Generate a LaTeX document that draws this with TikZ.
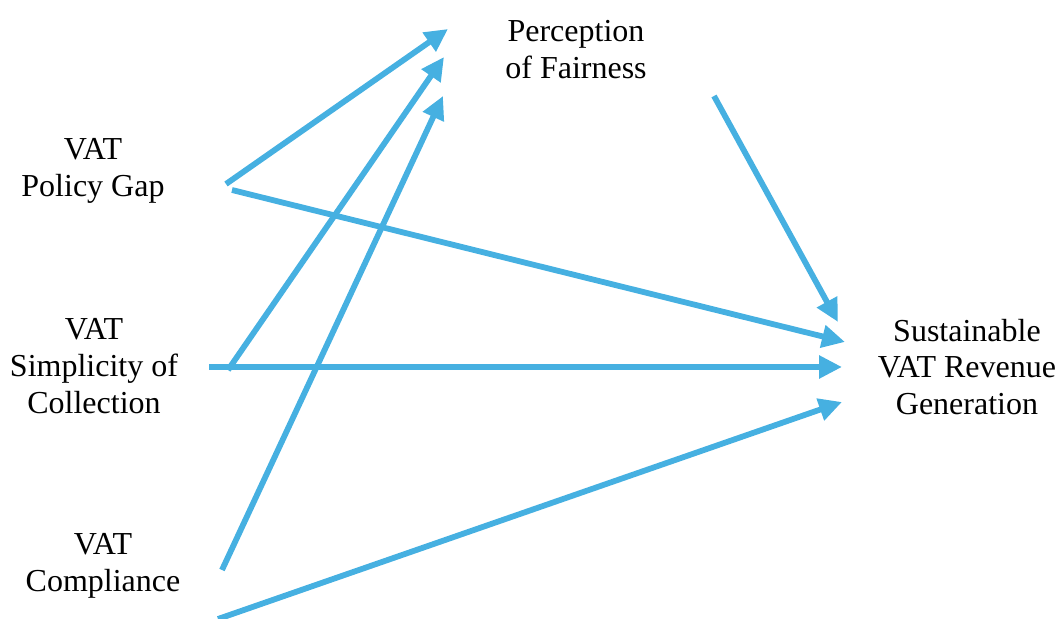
\documentclass[tikz,border=0pt]{standalone}
\usepackage{fontspec}
\setmainfont{Liberation Serif}
\usetikzlibrary{arrows.meta}
\definecolor{arrowblue}{RGB}{70,176,225}
\tikzset{
  lbl/.style={align=center, inner sep=0pt, font=\fontsize{16pt}{18.3pt}\selectfont},
  link/.style={draw=arrowblue, line width=2.9pt, -{Triangle[length=11.5pt,width=11pt]}}
}
\begin{document}
\begin{tikzpicture}[x=0.5pt,y=-0.5pt]
\useasboundingbox (0,0) rectangle (1062,619);
\node[lbl] (pf) at (576,49.5) {Perception\\of Fairness};
\node[lbl] (pg) at (93,171) {VAT\\Policy Gap};
\node[lbl] (sc) at (94,366) {VAT\\Simplicity of\\Collection};
\node[lbl] (cp) at (103,566) {VAT\\Compliance};
\node[lbl] (sv) at (967,367) {Sustainable\\VAT Revenue\\Generation};
% endpoints
\coordinate (pgA) at (226,184);
\coordinate (pgB) at (232,190);
\coordinate (scA) at (228,370);
\coordinate (scB) at (209,367);
\coordinate (cpA) at (222,570);
\coordinate (cpB) at (218,619);
\coordinate (pfA) at (448,29);
\coordinate (pfB) at (444,57);
\coordinate (pfC) at (443,96);
\coordinate (pfD) at (714,96);
\coordinate (svA) at (838,322);
\coordinate (svB) at (845,342);
\coordinate (svC) at (842,367);
\coordinate (svD) at (842,402);
\draw[link] (pgA) -- (pfA);
\draw[link] (scA) -- (pfB);
\draw[link] (cpA) -- (pfC);
\draw[link] (pgB) -- (svB);
\draw[link] (pfD) -- (svA);
\draw[link] (scB) -- (svC);
\draw[link] (cpB) -- (svD);
\end{tikzpicture}
\end{document}
